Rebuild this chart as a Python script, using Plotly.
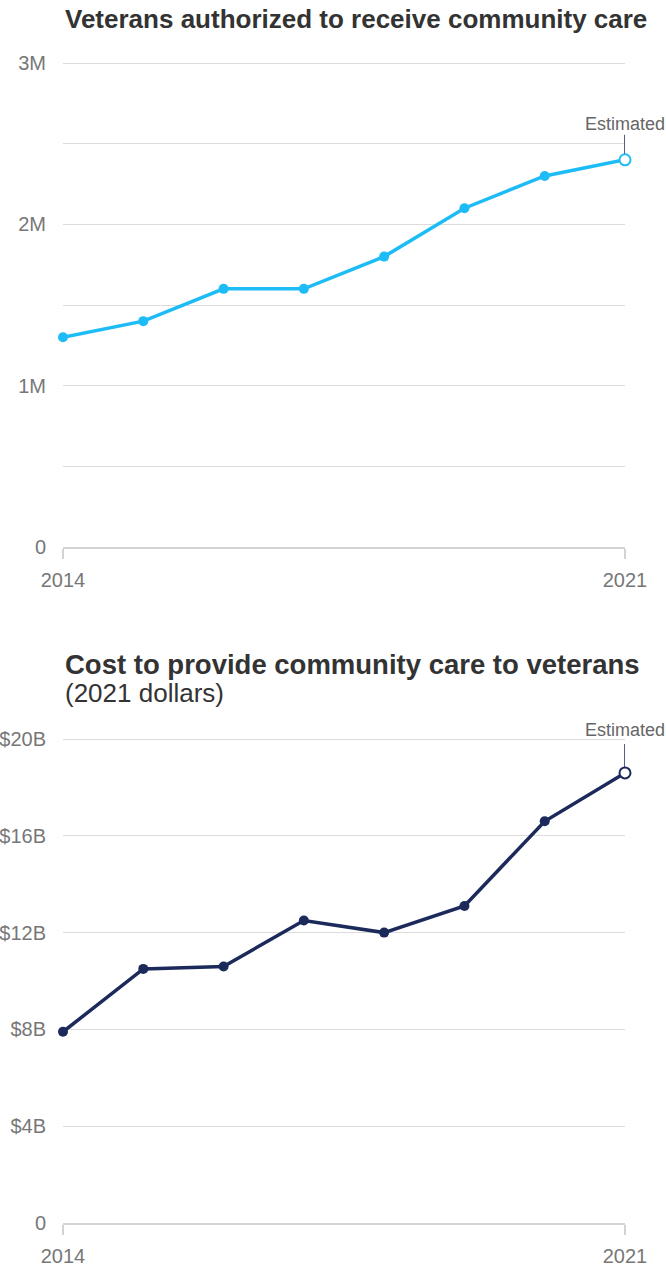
import plotly.graph_objects as go

years = [2014, 2015, 2016, 2017, 2018, 2019, 2020, 2021]
veterans = [1.3e6, 1.4e6, 1.6e6, 1.6e6, 1.8e6, 2.1e6, 2.3e6, 2.4e6]
cost = [7.9, 10.5, 10.6, 12.5, 12.0, 13.1, 16.6, 18.6]

vet_tickvals = [0, 0.5e6, 1e6, 1.5e6, 2e6, 2.5e6, 3e6]
vet_ticktext = ["0", "", "1M", "", "2M", "", "3M"]
cost_tickvals = [0, 4, 8, 12, 16, 20]
cost_ticktext = ["0", "$4B", "$8B", "$12B", "$16B", "$20B"]
x_tickvals = [2014, 2021]
x_ticktext = ["2014", "2021"]

title1 = "Veterans authorized to receive community care"
title2 = "Cost to provide community care to veterans"
subtitle2 = "(2021 dollars)"
note = "Estimated"

BLUE = "#1ebcf7"
NAVY = "#1b2a5a"
GRID = "#dcdcdc"
TICKC = "#777777"
FONT = "Liberation Sans, Arial, Helvetica, sans-serif"

W, H = 666, 1277
EXTRA = 3  # px of headroom so the top gridline is not dropped at the plot edge

def fy(px):
    return (H - px) / H

fig = go.Figure()

def add_series(xs, ys, color, xa, ya):
    fig.add_trace(go.Scatter(x=xs, y=ys, mode="lines", line=dict(color=color, width=3.5),
                             cliponaxis=False, xaxis=xa, yaxis=ya, showlegend=False,
                             hoverinfo="skip"))
    fig.add_trace(go.Scatter(x=xs[:-1], y=ys[:-1], mode="markers",
                             marker=dict(size=10, color=color),
                             cliponaxis=False, xaxis=xa, yaxis=ya, showlegend=False))
    fig.add_trace(go.Scatter(x=xs[-1:], y=ys[-1:], mode="markers",
                             marker=dict(size=11, color="white", line=dict(color=color, width=2)),
                             cliponaxis=False, xaxis=xa, yaxis=ya, showlegend=False))

add_series(years, veterans, BLUE, "x", "y")
add_series(years, cost, NAVY, "x2", "y2")

xcommon = dict(range=[2014, 2021], tickvals=x_tickvals, ticktext=x_ticktext,
               showgrid=False, zeroline=False, showline=True, linecolor="#d3d3d3", linewidth=2,
               ticks="outside", ticklen=10, tickwidth=2, tickcolor="#d3d3d3",
               tickfont=dict(family=FONT, size=20, color=TICKC), ticklabelstandoff=4,
               automargin=False, fixedrange=True)
ycommon = dict(showgrid=True, gridcolor=GRID, gridwidth=1, zeroline=False, showline=False,
               ticks="", tickfont=dict(family=FONT, size=20, color=TICKC), ticklabelstandoff=16,
               automargin=False, fixedrange=True)

top1, bot1 = 63, 547
top2, bot2 = 739, 1223
vmax1 = 3e6 * (bot1 - top1 + EXTRA) / (bot1 - top1)
vmax2 = 20 * (bot2 - top2 + EXTRA) / (bot2 - top2)

fig.update_layout(
    width=W, height=H, autosize=False,
    margin=dict(l=63, r=41, t=0, b=0, pad=0),
    paper_bgcolor="white", plot_bgcolor="white",
    xaxis=dict(domain=[0, 1], anchor="y", **xcommon),
    yaxis=dict(domain=[fy(bot1), fy(top1 - EXTRA)], anchor="x", range=[0, vmax1],
               tickvals=vet_tickvals, ticktext=vet_ticktext, **ycommon),
    xaxis2=dict(domain=[0, 1], anchor="y2", **xcommon),
    yaxis2=dict(domain=[fy(bot2), fy(top2 - EXTRA)], anchor="x2", range=[0, vmax2],
                tickvals=cost_tickvals, ticktext=cost_ticktext, **ycommon),
)

fig.add_annotation(xref="paper", yref="paper", x=0, y=fy(19), xanchor="left", yanchor="middle",
                   text="<b>" + title1 + "</b>", showarrow=False,
                   font=dict(family=FONT, size=26, color="#333333"))
fig.add_annotation(xref="paper", yref="paper", x=0, y=fy(664), xanchor="left", yanchor="middle",
                   text="<b>" + title2 + "</b>", showarrow=False,
                   font=dict(family=FONT, size=27.5, color="#333333"))
fig.add_annotation(xref="paper", yref="paper", x=0, y=fy(693), xanchor="left", yanchor="middle",
                   text=subtitle2, showarrow=False,
                   font=dict(family=FONT, size=26, color="#333333"))

for xa, ya, val, ys, l0, l1 in [("x", "y", veterans[-1], 36, 6, 25),
                                 ("x2", "y2", cost[-1], 43, 6, 29)]:
    fig.add_annotation(xref=xa, yref=ya, x=years[-1], y=val, text=note, showarrow=False,
                       xanchor="center", yanchor="middle", yshift=ys,
                       font=dict(family=FONT, size=18, color="#666666"))
    fig.add_shape(type="line", xref=xa, yref=ya, x0=years[-1], x1=years[-1],
                  ysizemode="pixel", yanchor=val, y0=l0, y1=l1,
                  line=dict(color=NAVY, width=1.5))

fig.write_html("out.html", config={"displayModeBar": False},
               post_script="document.body.style.margin='0';document.body.style.overflow='hidden';")
